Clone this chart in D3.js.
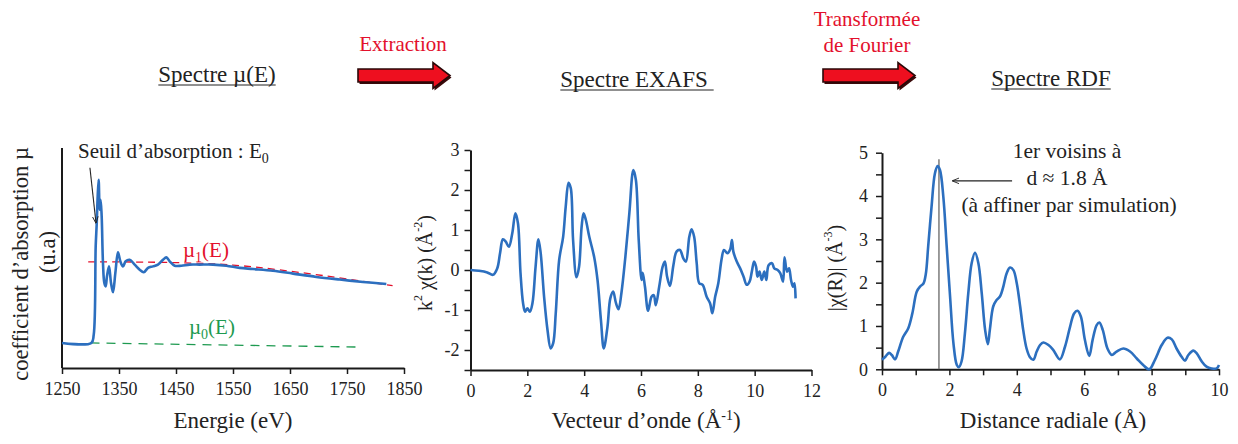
<!DOCTYPE html>
<html>
<head>
<meta charset="utf-8">
<script src="https://cdn.jsdelivr.net/npm/d3@7"></script>
<style>
  body { margin: 0; background: #fff; }
  svg { display: block; font-family: "Liberation Serif", "Times New Roman", serif; }
</style>
</head>
<body>
<div id="chart"></div>
<script>
// --- data ---

// spectre mu(E)
const energy = [1250, 1301.5, 1305.6, 1309.1, 1310.8, 1312.6, 1314.3, 1316.1, 1317.8, 1319.6, 1321.9, 1324.3, 1326.6,
  1328.9, 1332.5, 1336, 1339.5, 1343.6, 1348.2, 1352.3, 1357, 1361.7, 1368.7, 1377.5, 1386.3, 1393.3, 1400.9,
  1409.6, 1418.4, 1427.2, 1433, 1438.9, 1447.7, 1459.4, 1474, 1491.5, 1514.9, 1538.3, 1561.7, 1585.1, 1620.2,
  1655.3, 1696.2, 1737.1, 1778.1, 1819];
const mu = [1.14, 1.14, 1.5, 5.53, 6.5, 7.8, 8.56, 7.2, 7.65, 6.9, 4.77, 3.86, 3.71,
  4.17, 4.62, 3.86, 3.44, 4.32, 5.26, 4.85, 4.62, 4.85, 4.92, 4.70, 4.47, 4.35, 4.55,
  4.62, 4.70, 4.92, 5.03, 4.85, 4.65, 4.65, 4.70, 4.70, 4.70, 4.65, 4.55, 4.50, 4.42,
  4.29, 4.14, 4.02, 3.91, 3.82];
const mu1E = [1296, 1550, 1830];
const mu1V = [4.82, 4.68, 3.74];
const mu0E = [1300, 1775];
const mu0V = [1.14, 0.95];
const energyTicks = [1250, 1350, 1450, 1550, 1650, 1750, 1850];

// spectre EXAFS
const kVals = [0, 0.29, 0.59, 0.79, 0.94, 1.04, 1.14, 1.24, 1.35, 1.47, 1.58, 1.67, 1.76, 1.85, 1.92, 2.0, 2.09,
  2.18, 2.29, 2.39, 2.47, 2.59, 2.71, 2.82, 2.91, 3.0, 3.12, 3.26, 3.35, 3.45, 3.53, 3.61, 3.73, 3.82, 3.91,
  3.98, 4.06, 4.18, 4.35, 4.47, 4.59, 4.69, 4.82, 4.92, 5.02, 5.12, 5.21, 5.31, 5.45, 5.59, 5.73, 5.82, 5.92,
  6.02, 6.06, 6.14, 6.25, 6.37, 6.45, 6.52, 6.64, 6.76, 6.84, 6.92, 7.02, 7.14, 7.25, 7.37, 7.49, 7.58, 7.70,
  7.78, 7.87, 7.96, 8.05, 8.17, 8.31, 8.43, 8.51, 8.61, 8.72, 8.84, 8.92, 9.04, 9.14, 9.20, 9.25, 9.37, 9.49,
  9.61, 9.72, 9.82, 9.90, 9.98, 10.05, 10.10, 10.17, 10.25, 10.34, 10.41, 10.49, 10.61, 10.69, 10.81, 10.90,
  11.00, 11.05, 11.14, 11.21, 11.28, 11.35, 11.40, 11.44];
const chiK = [0, -0.02, -0.06, -0.12, 0.04, 0.42, 0.77, 0.71, 0.58, 0.92, 1.42, 1.17, -0.08, -0.83, -1.04, -0.96, -1.04,
  -0.83, 0.08, 0.77, 0.42, -0.67, -1.5, -1.96, -1.83, -1.08, 0.25, 0.83, 1.58, 2.18, 2.04, 0.75, -0.18, 0.08, 1.08,
  1.42, 1.25, 0.83, 0.33, -0.25, -1.25, -1.96, -1.42, -0.71, -0.54, -0.83, -0.98, -0.58, 0.33, 1.42, 2.5, 2.25, 0.75,
  -0.25, -0.07, -0.42, -1.02, -0.67, -0.63, -0.88, -0.42, 0.08, 0.21, -0.17, -0.4, 0.12, 0.46, 0.5, 0.29, 0.21, 0.83,
  1.02, 0.83, 0.17, -0.33, -0.37, -0.67, -0.83, -1.08, -0.67, -0.33, 0.29, 0.5, 0.42, 0.52, 0.75, 0.46, 0.21, 0.04,
  -0.17, -0.37, -0.29, -0.04, 0.21, 0.08, -0.17, -0.04, -0.25, -0.04, -0.25, 0.12, 0.17, 0.04, 0.0, -0.08,
  -0.29, 0.32, -0.04, 0.04, -0.25, -0.42, -0.33, -0.71];
const kTicks = [0, 2, 4, 6, 8, 10, 12];
const chiKTicks = [-2.5, -2, -1.5, -1, -0.5, 0, 0.5, 1, 1.5, 2, 2.5, 3];

// spectre RDF
const rVals = [0, 0.1, 0.21, 0.29, 0.39, 0.48, 0.63, 0.78, 0.9, 1.03, 1.13, 1.23, 1.30, 1.37, 1.47, 1.57, 1.65, 1.72,
  1.82, 1.92, 2.02, 2.12, 2.22, 2.28, 2.36, 2.46, 2.56, 2.66, 2.76, 2.86, 2.96, 3.06, 3.14, 3.2, 3.3, 3.4, 3.5, 3.6,
  3.7, 3.8, 3.9, 4.0, 4.1, 4.19, 4.29, 4.39, 4.49, 4.59, 4.69, 4.79, 4.94, 5.08, 5.28, 5.43, 5.58, 5.7, 5.8, 5.9,
  6.02, 6.15, 6.25, 6.37, 6.45, 6.55, 6.69, 6.82, 6.96, 7.16, 7.36, 7.56, 7.75, 7.93, 8.1, 8.3, 8.47, 8.6, 8.74,
  8.89, 8.99, 9.09, 9.24, 9.34, 9.49, 9.63, 9.78, 9.93, 10.0];
const chiR = [0.22, 0.29, 0.38, 0.33, 0.23, 0.41, 0.75, 0.95, 1.29, 1.79, 1.91, 1.98, 2.2, 2.83, 3.75, 4.52, 4.69, 4.6,
  3.98, 2.83, 1.68, 0.6, 0.1, 0.05, 0.18, 0.83, 1.75, 2.45, 2.69, 2.45, 1.75, 0.91, 0.58, 0.91, 1.45, 1.6, 1.68, 1.91,
  2.22, 2.35, 2.29, 1.98, 1.45, 0.91, 0.48, 0.28, 0.22, 0.41, 0.56, 0.62, 0.56, 0.45, 0.23, 0.52, 0.98, 1.29, 1.35, 1.22,
  0.68, 0.31, 0.68, 1.02, 1.08, 0.91, 0.48, 0.33, 0.41, 0.48, 0.41, 0.25, 0.1, 0.0, 0.22, 0.56, 0.73, 0.69, 0.48,
  0.29, 0.2, 0.33, 0.43, 0.37, 0.18, 0.06, 0.02, 0.02, 0.1];
const rTicks = [0, 1, 2, 3, 4, 5, 6, 7, 8, 9, 10];
const chiRTicks = [0, 0.5, 1, 1.5, 2, 2.5, 3, 3.5, 4, 4.5, 5];
const firstNeighbour = 1.69;

const W = 1238, H = 444;
const blue = "#2c6fbf";
const red = "#e3102c";
const ink = "#1a1a1a";

const svg = d3.select("#chart").append("svg")
  .attr("width", W)
  .attr("height", H);

svg.append("rect").attr("width", W).attr("height", H).attr("fill", "#fff");

const defs = svg.append("defs");
defs.append("marker")
  .attr("id", "head")
  .attr("viewBox", "0 0 10 10")
  .attr("refX", 9).attr("refY", 5)
  .attr("markerWidth", 7).attr("markerHeight", 7)
  .attr("markerUnits", "userSpaceOnUse")
  .attr("orient", "auto")
  .append("path")
  .attr("d", "M0,1 L10,5 L0,9")
  .attr("fill", "none")
  .attr("stroke", "#222")
  .attr("stroke-width", 1.3);

// axis helper: draws axis, styles it like the picture
const styleAxis = (g, fontSize) => {
  g.select(".domain").attr("stroke", ink).attr("stroke-width", 2);
  g.selectAll(".tick line").attr("stroke", ink).attr("stroke-width", 1.5);
  g.selectAll(".tick text")
    .attr("fill", "#222")
    .style("font-size", fontSize + "px")
    .style("font-family", "Liberation Serif");
};

// ---------- panel 1 : mu(E) ----------
const x1 = d3.scaleLinear().domain([1250, 1850]).range([62, 404]);
const y1 = d3.scaleLinear().domain([0, 10]).range([368, 148]);

svg.append("g")
  .attr("transform", "translate(0,368)")
  .call(d3.axisBottom(x1).tickValues(energyTicks).tickSize(6).tickSizeOuter(0).tickPadding(8).tickFormat(d3.format("d")))
  .call(g => styleAxis(g, 18));
svg.append("line")
  .attr("x1", x1(1250)).attr("x2", x1(1250))
  .attr("y1", y1(10)).attr("y2", y1(0))
  .attr("stroke", ink).attr("stroke-width", 2);

const line1 = d3.line().x(d => x1(d[0])).y(d => y1(d[1])).curve(d3.curveCatmullRom.alpha(0.5));

svg.append("path")
  .attr("d", line1(d3.zip(mu0E, mu0V)))
  .attr("fill", "none").attr("stroke", "#1e9a50").attr("stroke-width", 1.3)
  .attr("stroke-dasharray", "9,7");
svg.append("path")
  .attr("d", line1(d3.zip(mu1E, mu1V)))
  .attr("fill", "none").attr("stroke", red).attr("stroke-width", 1.3)
  .attr("stroke-dasharray", "7,5");
svg.append("path")
  .attr("d", line1(d3.zip(energy, mu)))
  .attr("fill", "none").attr("stroke", blue).attr("stroke-width", 2.6)
  .attr("stroke-linejoin", "round");

// annotations
svg.append("text")
  .attr("x", 78).attr("y", 158)
  .style("font-size", "21px").attr("fill", "#222")
  .text("Seuil d\u2019absorption : E")
  .append("tspan").attr("dy", 5).style("font-size", "14px").text("0");
svg.append("line")
  .attr("x1", x1(1299)).attr("y1", y1(9.1))
  .attr("x2", x1(1309.6)).attr("y2", y1(6.6))
  .attr("stroke", "#222").attr("stroke-width", 1.1)
  .attr("marker-end", "url(#head)");

const mu1Label = svg.append("text").attr("x", 183).attr("y", 257)
  .style("font-size", "21px").attr("fill", red);
mu1Label.append("tspan").text("\u00b5");
mu1Label.append("tspan").attr("dy", 5).style("font-size", "14px").text("1");
mu1Label.append("tspan").attr("dy", -5).text("(E)");

const mu0Label = svg.append("text").attr("x", 189).attr("y", 334)
  .style("font-size", "21px").attr("fill", "#1e9a50");
mu0Label.append("tspan").text("\u00b5");
mu0Label.append("tspan").attr("dy", 5).style("font-size", "14px").text("0");
mu0Label.append("tspan").attr("dy", -5).text("(E)");

svg.append("text")
  .attr("transform", "translate(20,264) rotate(-90)")
  .attr("text-anchor", "middle").attr("dominant-baseline", "central")
  .style("font-size", "22.5px").attr("fill", "#222")
  .text("coefficient d\u2019absorption \u00b5");
svg.append("text")
  .attr("transform", "translate(47,252) rotate(-90)")
  .attr("text-anchor", "middle").attr("dominant-baseline", "central")
  .style("font-size", "22.5px").attr("fill", "#222")
  .text("(u.a)");
svg.append("text")
  .attr("x", 233).attr("y", 428)
  .attr("text-anchor", "middle")
  .style("font-size", "23px").attr("fill", "#222")
  .text("Energie (eV)");

// ---------- panel 2 : EXAFS ----------
const x2 = d3.scaleLinear().domain([0, 12]).range([470.5, 811.5]);
const y2 = d3.scaleLinear().domain([-2.5, 3]).range([370, 150]);

svg.append("g")
  .attr("transform", "translate(0,370)")
  .call(d3.axisBottom(x2).tickValues(kTicks).tickSize(6).tickSizeOuter(0).tickPadding(8))
  .call(g => styleAxis(g, 18));
svg.append("g")
  .attr("transform", "translate(470.5,0)")
  .call(d3.axisLeft(y2).tickValues(chiKTicks).tickSize(6).tickSizeOuter(0).tickPadding(5)
    .tickFormat(d => Number.isInteger(d) ? String(d) : ""))
  .call(g => styleAxis(g, 18));

const line2 = d3.line().x(d => x2(d[0])).y(d => y2(d[1])).curve(d3.curveCatmullRom.alpha(0.5));
svg.append("path")
  .attr("d", line2(d3.zip(kVals, chiK)))
  .attr("fill", "none").attr("stroke", blue).attr("stroke-width", 2.6)
  .attr("stroke-linejoin", "round");

const yLab2 = svg.append("text")
  .attr("transform", "translate(425,263) rotate(-90)")
  .attr("text-anchor", "middle").attr("dominant-baseline", "central")
  .style("font-size", "20px").attr("fill", "#222");
yLab2.append("tspan").text("k");
yLab2.append("tspan").attr("dy", -7).style("font-size", "12px").text("2");
yLab2.append("tspan").attr("dy", 7).text(" \u03c7(k) (\u00c5");
yLab2.append("tspan").attr("dy", -7).style("font-size", "12px").text("-2");
yLab2.append("tspan").attr("dy", 7).text(")");

const xLab2 = svg.append("text")
  .attr("x", 646).attr("y", 428)
  .attr("text-anchor", "middle")
  .style("font-size", "23px").attr("fill", "#222");
xLab2.append("tspan").text("Vecteur d\u2019onde (\u00c5");
xLab2.append("tspan").attr("dy", -8).style("font-size", "14px").text("-1");
xLab2.append("tspan").attr("dy", 8).text(")");

// ---------- panel 3 : RDF ----------
const x3 = d3.scaleLinear().domain([0, 10]).range([882, 1219]);
const y3 = d3.scaleLinear().domain([0, 5]).range([369.3, 152.7]);

svg.append("g")
  .attr("transform", "translate(0,369.3)")
  .call(d3.axisBottom(x3).tickValues(rTicks).tickSize(6).tickSizeOuter(0).tickPadding(8)
    .tickFormat(d => d % 2 === 0 ? String(d) : ""))
  .call(g => styleAxis(g, 18));
svg.append("g")
  .attr("transform", "translate(882,0)")
  .call(d3.axisLeft(y3).tickValues(chiRTicks).tickSize(6).tickSizeOuter(0).tickPadding(8)
    .tickFormat(d => Number.isInteger(d) ? String(d) : ""))
  .call(g => styleAxis(g, 18));

svg.append("line")
  .attr("x1", x3(firstNeighbour)).attr("x2", x3(firstNeighbour))
  .attr("y1", y3(0)).attr("y2", y3(4.85))
  .attr("stroke", "#666").attr("stroke-width", 1.3);

const line3 = d3.line().x(d => x3(d[0])).y(d => y3(d[1])).curve(d3.curveCatmullRom.alpha(0.5));
svg.append("path")
  .attr("d", line3(d3.zip(rVals, chiR)))
  .attr("fill", "none").attr("stroke", blue).attr("stroke-width", 2.6)
  .attr("stroke-linejoin", "round");

svg.append("line")
  .attr("x1", x3(3.86)).attr("y1", y3(4.35))
  .attr("x2", x3(2.1)).attr("y2", y3(4.35))
  .attr("stroke", "#222").attr("stroke-width", 1.1)
  .attr("marker-end", "url(#head)");

const notes = ["1er voisins \u00e0", "d \u2248 1.8 \u00c5", "(\u00e0 affiner par simulation)"];
svg.append("g").selectAll("text")
  .data(notes)
  .join("text")
  .attr("x", (d, i) => i === 2 ? 1069 : 1067)
  .attr("y", (d, i) => 158 + i * 27)
  .attr("text-anchor", "middle")
  .style("font-size", "21.5px").attr("fill", "#222")
  .text(d => d);

const yLab3 = svg.append("text")
  .attr("transform", "translate(835,268) rotate(-90)")
  .attr("text-anchor", "middle").attr("dominant-baseline", "central")
  .style("font-size", "20px").attr("fill", "#222");
yLab3.append("tspan").text("|\u03c7(R)| (\u00c5");
yLab3.append("tspan").attr("dy", -7).style("font-size", "12px").text("-3");
yLab3.append("tspan").attr("dy", 7).text(")");

svg.append("text")
  .attr("x", 1053).attr("y", 428)
  .attr("text-anchor", "middle")
  .style("font-size", "23px").attr("fill", "#222")
  .text("Distance radiale (\u00c5)");

// ---------- titles and process arrows ----------
const titles = [
  { text: "Spectre \u00b5(E)", x: 217, y: 82 },
  { text: "Spectre EXAFS ", x: 637, y: 87 },
  { text: "Spectre RDF", x: 1051, y: 86 }
];
titles.forEach(t => {
  const el = svg.append("text")
    .attr("x", t.x).attr("y", t.y)
    .attr("text-anchor", "middle")
    .style("font-size", "23px").attr("fill", "#222")
    .attr("xml:space", "preserve")
    .text(t.text);
  const bb = el.node().getBBox();
  svg.append("line")
    .attr("x1", bb.x).attr("x2", bb.x + bb.width)
    .attr("y1", t.y + 3).attr("y2", t.y + 3)
    .attr("stroke", "#222").attr("stroke-width", 1.2);
});

const stepLabels = [
  { lines: ["Extraction"], x: 403, y: 51 },
  { lines: ["Transformée", "de Fourier"], x: 867, y: 26 }
];
stepLabels.forEach(s => {
  s.lines.forEach((l, i) => {
    svg.append("text")
      .attr("x", s.x).attr("y", s.y + i * 26)
      .attr("text-anchor", "middle")
      .style("font-size", "21px").attr("fill", red)
      .text(l);
  });
});

const arrowPath = (x0, len, cy) => {
  const hw = 6.5, hh = 13, headLen = 17;
  const xb = x0 + len - headLen;
  return `M${x0},${cy - hw} L${xb},${cy - hw} L${xb},${cy - hh} L${x0 + len},${cy} L${xb},${cy + hh} L${xb},${cy + hw} L${x0},${cy + hw} Z`;
};
[{ x: 358, len: 92 }, { x: 823, len: 92 }].forEach(a => {
  svg.append("path")
    .attr("d", arrowPath(a.x + 1.5, a.len, 77.5))
    .attr("fill", "#3a0a0a");
  svg.append("path")
    .attr("d", arrowPath(a.x, a.len, 75.5))
    .attr("fill", "#ee0f1f")
    .attr("stroke", "#2a0808").attr("stroke-width", 1.6)
    .attr("stroke-linejoin", "miter");
});
</script>
</body>
</html>
